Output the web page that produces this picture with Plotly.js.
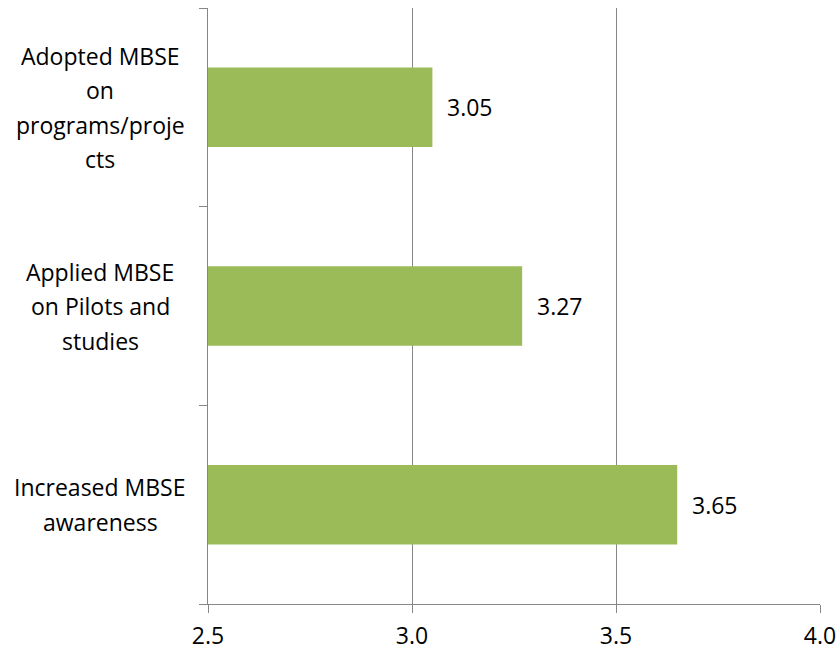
<!DOCTYPE html>
<html>
<head>
<meta charset="utf-8">
<script src="https://cdn.plot.ly/plotly-3.0.1.min.js"></script>
<style>html,body{margin:0;padding:0;background:#fff;}#chart{width:839px;height:652px;}</style>
</head>
<body>
<div id="chart"></div>
<script>
// Categories bottom-to-top as drawn by the axis
var categories = ["Increased MBSE awareness", "Applied MBSE on Pilots and studies", "Adopted MBSE on programs/projects"];
var categoryLines = [["Increased MBSE", "awareness"], ["Applied MBSE", "on Pilots and", "studies"], ["Adopted MBSE", "on", "programs/proje", "cts"]];
var values = [3.65, 3.27, 3.05];
var valueLabels = ["3.65", "3.27", "3.05"];
var xTickVals = [2.5, 3.0, 3.5, 4.0];
var xTickText = ["2.5", "3.0", "3.5", "4.0"];

var FONT = "'Open Sans', sans-serif";
var FSIZE = 23;
var GRAY = "#868686";

var annotations = [];
// value labels
for (var i = 0; i < values.length; i++) {
  annotations.push({
    x: values[i], y: categories[i], xref: "x", yref: "y",
    text: valueLabels[i], showarrow: false, xanchor: "left", yanchor: "middle",
    xshift: 13, font: {family: FONT, size: FSIZE, color: "#000"}
  });
}
// category labels, line by line
var LINE = 34.5;
for (var c = 0; c < categoryLines.length; c++) {
  var lines = categoryLines[c];
  var n = lines.length;
  for (var k = 0; k < n; k++) {
    annotations.push({
      x: -0.176, y: categories[c], xref: "paper", yref: "y",
      text: lines[k], showarrow: false, xanchor: "center", yanchor: "middle",
      yshift: ((n - 1) / 2 - k) * LINE,
      font: {family: FONT, size: FSIZE, color: "#000"}
    });
  }
}

var trace = {
  type: "bar", orientation: "h",
  x: values, y: categories,
  marker: {color: "#9BBB59", line: {width: 0}},
  hoverinfo: "skip"
};

var layout = {
  width: 839, height: 652,
  margin: {l: 208, r: 19, t: 8, b: 48},
  paper_bgcolor: "#fff", plot_bgcolor: "#fff",
  showlegend: false,
  bargap: 0.6,
  xaxis: {
    range: [2.5, 4.0], tickmode: "array", tickvals: xTickVals, ticktext: xTickText,
    showgrid: true, gridcolor: GRAY, gridwidth: 1,
    showline: true, linecolor: GRAY, linewidth: 1,
    ticks: "outside", ticklen: 8, tickcolor: GRAY, tickwidth: 1,
    ticklabelstandoff: 3,
    tickfont: {family: FONT, size: FSIZE, color: "#000"},
    zeroline: false, fixedrange: true
  },
  yaxis: {
    type: "category", categoryorder: "array", categoryarray: categories,
    range: [-0.5, 2.5],
    showgrid: false, showline: true, linecolor: GRAY, linewidth: 1,
    ticks: "outside", tickson: "boundaries", ticklen: 8, tickcolor: GRAY, tickwidth: 1,
    showticklabels: false, zeroline: false, fixedrange: true
  },
  annotations: annotations
};

Plotly.newPlot("chart", [trace], layout, {displayModeBar: false, staticPlot: true});
</script>
</body>
</html>
